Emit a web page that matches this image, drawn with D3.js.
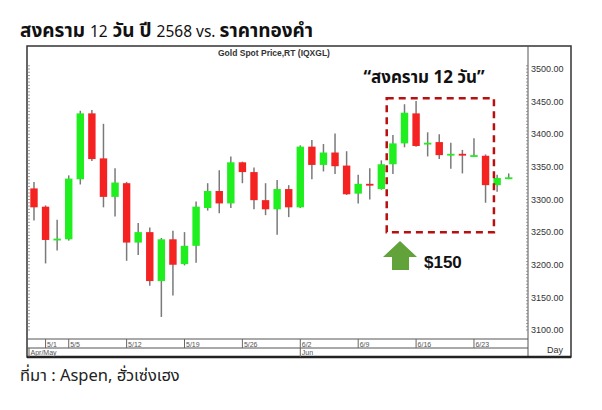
<!DOCTYPE html>
<html>
<head>
<meta charset="utf-8">
<style>
  body { margin:0; background:#fff; font-family: "Liberation Sans", Arial, sans-serif; }
  .thai { font-family: Tahoma, "Noto Sans Thai", "Noto Sans", sans-serif; }
  .axis-label { fill:#333; font-size:9px; }
  .date-label { fill:#555; font-size:7px; }
</style>
<script src="https://d3js.org/d3.v7.min.js"></script>
</head>
<body>
<div class="chart"></div>
<script>
// trading days shown (Apr 30 - Jun 26, 2025)
const dates = ['4/30','5/1','5/2','5/5','5/6','5/7','5/8','5/9','5/12','5/13','5/14','5/15','5/16',
  '5/19','5/20','5/21','5/22','5/23','5/26','5/27','5/28','5/29','5/30','6/2','6/3','6/4','6/5','6/6',
  '6/9','6/10','6/11','6/12','6/13','6/16','6/17','6/18','6/19','6/20','6/23','6/24','6/25','6/26'];
const opens  = [3317,3289,3238,3239,3331,3432,3363,3304,3325,3234,3250,3175,3239,
  3201,3229,3287,3313,3294,3357,3342,3299,3285,3316,3288,3381,3353,3372,3352,
  3309,3324,3316,3354,3386,3432,3385,3388,3368,3370,3366,3367,3322,3333];
const highs  = [3327,3291,3269,3337,3436,3437,3416,3348,3327,3264,3257,3241,3252,
  3250,3297,3325,3345,3366,3358,3349,3325,3330,3322,3383,3391,3385,3401,3374,
  3338,3348,3360,3399,3446,3451,3403,3400,3387,3376,3394,3369,3338,3340];
const lows   = [3268,3202,3222,3237,3323,3359,3288,3274,3206,3215,3168,3120,3153,
  3199,3203,3283,3279,3287,3325,3285,3276,3246,3273,3287,3331,3343,3339,3307,
  3294,3300,3315,3339,3380,3381,3366,3362,3347,3340,3366,3295,3312,3331];
const closes = [3288,3238,3240,3332,3432,3362,3304,3326,3234,3250,3175,3239,3200,
  3229,3289,3313,3294,3357,3342,3299,3285,3316,3288,3381,3353,3372,3351,3308,
  3324,3322,3354,3386,3433,3382,3387,3368,3370,3368,3368,3322,3333,3334];

const yTicks = [3100,3150,3200,3250,3300,3350,3400,3450,3500];
const xTickDates = ['5/1','5/5','5/12','5/19','5/26','6/2','6/9','6/16','6/23'];
const monthLabels = [{at:'4/30', text:'Apr/May'}, {at:'6/2', text:'Jun'}];
const warStart = '6/12', warEnd = '6/25';
const boxTop = 3455, boxBottom = 3250;

const width = 602, height = 410;
const frame = {left:27, top:46, right:571, bottom:357, plotRight:528, axisTop:339, axisMid:348};

const svg = d3.select('.chart').append('svg')
  .attr('width', width).attr('height', height);

const x = d3.scaleBand().domain(dates).range([28.2, 514.5]).paddingInner(0.36).paddingOuter(0.18);
const y = d3.scaleLinear().domain([3100, 3500]).range([330, 69]);
const cx = d => x(d) + x.bandwidth() / 2;

// title
svg.append('text')
  .attr('class', 'thai')
  .attr('x', 20).attr('y', 37)
  .attr('fill', '#111')
  .call(t => {
    const parts = [['สงคราม ', true], ['12', false], [' วัน ปี ', true], ['2568 vs. ', false], ['ราคาทองคำ', true]];
    parts.forEach(([s, b]) => t.append('tspan')
      .attr('font-weight', b ? 'bold' : 'normal')
      .attr('font-size', b ? '19px' : '15.5px')
      .text(s));
  });

// chart frame
const g = svg.append('g');
g.append('rect')
  .attr('x', frame.left).attr('y', frame.top)
  .attr('width', frame.right - frame.left).attr('height', frame.bottom - frame.top)
  .attr('fill', '#fff').attr('stroke', '#333').attr('stroke-width', 1.5);
g.append('line')
  .attr('x1', frame.plotRight).attr('x2', frame.plotRight)
  .attr('y1', frame.top).attr('y2', frame.bottom)
  .attr('stroke', '#555');
[frame.axisTop, frame.axisMid].forEach(yy => g.append('line')
  .attr('x1', frame.left).attr('x2', frame.plotRight)
  .attr('y1', yy).attr('y2', yy).attr('stroke', '#555'));
g.append('line')
  .attr('x1', frame.left).attr('x2', frame.right)
  .attr('y1', frame.bottom).attr('y2', frame.bottom)
  .attr('stroke', '#222').attr('stroke-width', 2.5);

// ruler ticks on left edge and right axis
const minor = d3.range(3100, 3506, 5);
g.selectAll('.minor-l').data(minor).join('line')
  .attr('x1', frame.left).attr('x2', frame.left + 3)
  .attr('y1', d => y(d)).attr('y2', d => y(d))
  .attr('stroke', '#777').attr('stroke-width', 0.7);
g.selectAll('.minor-r').data(minor).join('line')
  .attr('x1', frame.plotRight - 2).attr('x2', frame.plotRight)
  .attr('y1', d => y(d)).attr('y2', d => y(d))
  .attr('stroke', '#777').attr('stroke-width', 0.7);

// y labels
g.selectAll('.ylab').data(yTicks).join('text')
  .attr('class', 'axis-label')
  .attr('x', 531).attr('y', d => y(d)).attr('dy', '0.35em')
  .text(d => d3.format('.2f')(d));
g.append('text').attr('class', 'axis-label')
  .attr('x', 547).attr('y', 353).text('Day');

// date ticks
g.selectAll('.xtick').data(xTickDates).join('line')
  .attr('x1', d => cx(d)).attr('x2', d => cx(d))
  .attr('y1', frame.axisTop).attr('y2', frame.axisMid)
  .attr('stroke', '#666');
g.selectAll('.xlab').data(xTickDates).join('text')
  .attr('class', 'date-label')
  .attr('x', d => cx(d) + 1.5).attr('y', frame.axisMid - 1.5)
  .text(d => d);
g.selectAll('.mtick').data(monthLabels).join('line')
  .attr('x1', d => d.at === '4/30' ? frame.left + 2 : cx(d.at))
  .attr('x2', d => d.at === '4/30' ? frame.left + 2 : cx(d.at))
  .attr('y1', frame.axisMid).attr('y2', frame.bottom)
  .attr('stroke', '#666');
g.selectAll('.mlab').data(monthLabels).join('text')
  .attr('class', 'date-label')
  .attr('x', d => (d.at === '4/30' ? frame.left + 2 : cx(d.at)) + 1.5).attr('y', frame.bottom - 2)
  .text(d => d.text);

// chart caption
g.append('text')
  .attr('x', 218).attr('y', 56)
  .attr('fill', '#333').attr('font-size', '8.5px').attr('font-weight', 'bold')
  .text('Gold Spot Price,RT (IQXGL)');

// candles
const candles = dates.map((d, i) => ({date:d, o:opens[i], h:highs[i], l:lows[i], c:closes[i]}));
const cg = g.append('g').selectAll('g').data(candles).join('g');
cg.append('line')
  .attr('x1', d => cx(d.date)).attr('x2', d => cx(d.date))
  .attr('y1', d => y(d.h)).attr('y2', d => y(d.l))
  .attr('stroke', '#7a7a7a').attr('stroke-width', 1.5);
cg.append('rect')
  .attr('x', d => x(d.date)).attr('width', x.bandwidth())
  .attr('y', d => y(Math.max(d.o, d.c)))
  .attr('height', d => Math.max(1.8, Math.abs(y(d.o) - y(d.c))))
  .attr('fill', d => d.c >= d.o ? '#1fee1f' : '#f52222');

// 12-day war box
g.append('rect')
  .attr('x', x(warStart) - 2.5).attr('y', y(boxTop))
  .attr('width', x(warEnd) - x(warStart) + 3)
  .attr('height', y(boxBottom) - y(boxTop))
  .attr('fill', 'none').attr('stroke', '#b80f0f')
  .attr('stroke-width', 2.5).attr('stroke-dasharray', '7,5');

g.append('text')
  .attr('class', 'thai')
  .attr('x', 424).attr('y', 83).attr('text-anchor', 'middle')
  .attr('font-size', '17px').attr('font-weight', 'bold').attr('fill', '#111')
  .text('“สงคราม 12 วัน”');

// arrow and $150
g.append('path')
  .attr('d', 'M400,241 L417,257 L409,257 L409,270 L392,270 L392,257 L383,257 Z')
  .attr('fill', '#62a23b');
g.append('text')
  .attr('x', 424).attr('y', 268)
  .attr('font-size', '17px').attr('font-weight', 'bold').attr('fill', '#111')
  .text('$150');

// source
svg.append('text')
  .attr('class', 'thai')
  .attr('x', 20).attr('y', 381)
  .attr('font-size', '16.5px').attr('fill', '#222')
  .text('ที่มา : Aspen, ฮั่วเซ่งเฮง');
</script>
</body>
</html>
